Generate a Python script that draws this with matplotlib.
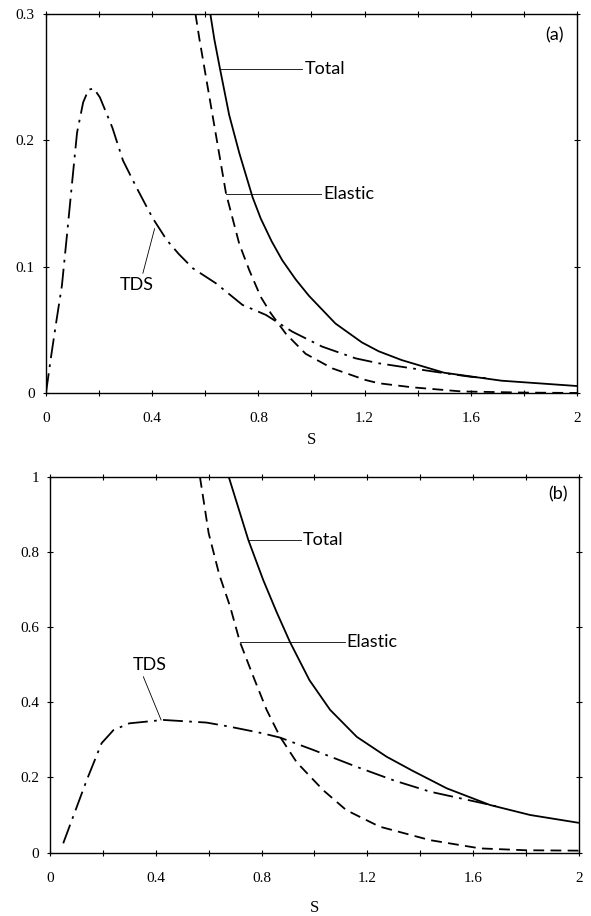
import matplotlib
matplotlib.use("Agg")
import matplotlib.pyplot as plt
from matplotlib.ticker import MultipleLocator, FuncFormatter

# ---- panel (a) curves ----
a_total_s = [0.619, 0.634, 0.655, 0.690, 0.728, 0.778, 0.809, 0.850, 0.890, 0.940,
             0.990, 1.090, 1.190, 1.253, 1.340, 1.500, 1.716, 2.000]
a_total_y = [0.300, 0.280, 0.257, 0.220, 0.190, 0.155, 0.138, 0.120, 0.105, 0.090,
             0.077, 0.055, 0.040, 0.033, 0.026, 0.016, 0.0097, 0.0055]

a_elastic_s = [0.563, 0.578, 0.628, 0.678, 0.728, 0.766, 0.809, 0.847, 0.903, 0.978,
               1.078, 1.203, 1.253, 1.378, 1.565, 1.800, 2.000]
a_elastic_y = [0.300, 0.280, 0.219, 0.158, 0.118, 0.097, 0.076, 0.063, 0.047, 0.031,
               0.0195, 0.0103, 0.0077, 0.0045, 0.0012, 0.0003, 0.0]

a_tds_s = [0.0, 0.02, 0.04, 0.06, 0.08, 0.10, 0.117, 0.14, 0.16, 0.18, 0.203, 0.25,
           0.29, 0.34, 0.38, 0.403, 0.455, 0.50, 0.553, 0.64, 0.74, 0.828, 0.928,
           1.04, 1.166, 1.253, 1.378, 1.49, 1.60, 1.66]
a_tds_y = [0.0, 0.03, 0.058, 0.085, 0.127, 0.170, 0.206, 0.230, 0.240, 0.241, 0.234, 0.210,
           0.184, 0.163, 0.147, 0.138, 0.121, 0.110, 0.0987, 0.0868, 0.0697, 0.0618, 0.0485,
           0.0367, 0.0274, 0.0235, 0.0195, 0.016, 0.0128, 0.0117]

# ---- panel (b) curves ----
b_total_s = [0.676, 0.750, 0.806, 0.857, 0.907, 0.981, 1.059, 1.160, 1.273, 1.370,
             1.500, 1.664, 1.815, 2.000]
b_total_y = [1.000, 0.832, 0.726, 0.640, 0.561, 0.459, 0.380, 0.308, 0.255, 0.218,
             0.171, 0.1265, 0.100, 0.079]

b_elastic_s = [0.567, 0.600, 0.640, 0.681, 0.718, 0.769, 0.819, 0.870, 0.933, 1.033,
               1.120, 1.246, 1.437, 1.626, 1.800, 2.000]
b_elastic_y = [1.000, 0.850, 0.740, 0.655, 0.561, 0.468, 0.380, 0.308, 0.240, 0.166,
               0.113, 0.069, 0.033, 0.011, 0.006, 0.005]

b_tds_s = [0.05, 0.139, 0.195, 0.24, 0.30, 0.428, 0.592, 0.68, 0.80, 0.870,
           0.996, 1.160, 1.300, 1.437, 1.638, 1.70]
b_tds_y = [0.0245, 0.193, 0.291, 0.326, 0.344, 0.353, 0.346, 0.335, 0.318, 0.306,
           0.273, 0.228, 0.192, 0.162, 0.131, 0.121]

fig = plt.figure(figsize=(5.91, 9.16), dpi=100)
ax_a = fig.add_axes([0.0778, 0.571, 0.8985, 0.4138])
ax_b = fig.add_axes([0.0846, 0.0693, 0.895, 0.4100])

tick_font = {"family": "Liberation Serif", "size": 11}
note_font = {"family": "Lato", "size": 13}
lw = 1.3


def fmt(v, pos):
    return "%g" % v


def style(ax, ymax, ystep, xpad):
    ax.set_xlim(0, 2)
    ax.set_ylim(0, ymax)
    ax.xaxis.set_major_locator(MultipleLocator(0.4))
    ax.xaxis.set_minor_locator(MultipleLocator(0.2))
    ax.yaxis.set_major_locator(MultipleLocator(ystep))
    ax.xaxis.set_major_formatter(FuncFormatter(fmt))
    ax.yaxis.set_major_formatter(FuncFormatter(fmt))
    ax.tick_params(which="both", direction="inout", top=True, right=True,
                   length=4, width=0.8)
    ax.tick_params(axis="x", which="major", pad=12)
    ax.tick_params(axis="y", which="major", pad=6)
    for lab in ax.get_xticklabels() + ax.get_yticklabels():
        lab.set_fontfamily(tick_font["family"])
        lab.set_fontsize(tick_font["size"])
    for sp in ax.spines.values():
        sp.set_linewidth(1.0)
    ax.set_xlabel("S", fontfamily="Liberation Serif", fontsize=12, labelpad=xpad)


def curves(ax, ts, ty, es, ey, ds, dy):
    ax.plot(ts, ty, color="black", lw=lw, solid_capstyle="butt")
    ax.plot(es, ey, color="black", lw=lw, dashes=(6, 3.5))
    ax.plot(ds, dy, color="black", lw=lw, dashes=(11, 3.5, 1.5, 3.5))


# panel (a)
curves(ax_a, a_total_s, a_total_y, a_elastic_s, a_elastic_y, a_tds_s, a_tds_y)
style(ax_a, 0.3, 0.1, 5)
ax_a.plot([0.655, 0.965], [0.2565, 0.2565], color="black", lw=0.6)
ax_a.text(0.975, 0.2565, "Total", va="center", ha="left", **note_font)
ax_a.plot([0.678, 1.035], [0.1576, 0.1576], color="black", lw=0.6)
ax_a.text(1.045, 0.1576, "Elastic", va="center", ha="left", **note_font)
ax_a.plot([0.409, 0.365], [0.130, 0.0948], color="black", lw=0.6)
ax_a.text(0.343, 0.0855, "TDS", va="center", ha="center", **note_font)
ax_a.text(1.917, 0.283, "(a)", va="center", ha="center", **note_font)

# panel (b)
curves(ax_b, b_total_s, b_total_y, b_elastic_s, b_elastic_y, b_tds_s, b_tds_y)
style(ax_b, 1.0, 0.2, 11)
ax_b.plot([0.75, 0.95], [0.832, 0.832], color="black", lw=0.6)
ax_b.text(0.957, 0.832, "Total", va="center", ha="left", **note_font)
ax_b.plot([0.718, 1.115], [0.561, 0.561], color="black", lw=0.6)
ax_b.text(1.122, 0.561, "Elastic", va="center", ha="left", **note_font)
ax_b.plot([0.353, 0.42], [0.468, 0.353], color="black", lw=0.6)
ax_b.text(0.378, 0.499, "TDS", va="center", ha="center", **note_font)
ax_b.text(1.919, 0.953, "(b)", va="center", ha="center", **note_font)

fig.savefig("out.png", dpi=100)
